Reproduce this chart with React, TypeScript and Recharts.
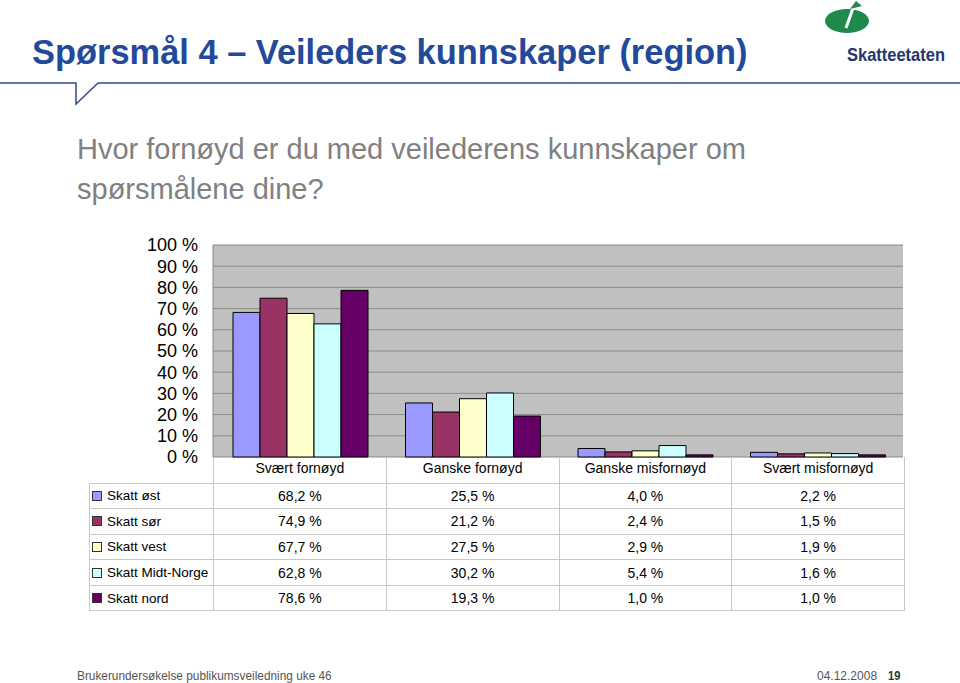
import React, { useLayoutEffect, useRef, useState } from 'react'
import { BarChart, Bar, XAxis, YAxis, CartesianGrid } from 'recharts'

const categories = ['Svært fornøyd', 'Ganske fornøyd', 'Ganske misfornøyd', 'Svært misfornøyd']
const skattOst = [68.2, 25.5, 4.0, 2.2]
const skattSor = [74.9, 21.2, 2.4, 1.5]
const skattVest = [67.7, 27.5, 2.9, 1.9]
const skattMidtNorge = [62.8, 30.2, 5.4, 1.6]
const skattNord = [78.6, 19.3, 1.0, 1.0]
const yTicks = [0, 10, 20, 30, 40, 50, 60, 70, 80, 90, 100]

const series = [
  { key: 'ost', name: 'Skatt øst', values: skattOst, color: '#9999FF' },
  { key: 'sor', name: 'Skatt sør', values: skattSor, color: '#993366' },
  { key: 'vest', name: 'Skatt vest', values: skattVest, color: '#FFFFCC' },
  { key: 'midt', name: 'Skatt Midt-Norge', values: skattMidtNorge, color: '#CCFFFF' },
  { key: 'nord', name: 'Skatt nord', values: skattNord, color: '#660066' }
]

const data = categories.map((name, i) => {
  const row: Record<string, string | number> = { name }
  series.forEach(s => { row[s.key] = s.values[i] })
  return row
})

const fmt = (v: number) => v.toFixed(1).replace('.', ',') + ' %'

const arial = '"Liberation Sans", Arial, sans-serif'
const gridColor = '#C8C8C8'

// squeezes a text horizontally to a given width (stands in for Arial Narrow)
const FitText = ({ width, style, children }: { width: number, style: React.CSSProperties, children: React.ReactNode }) => {
  const ref = useRef<HTMLSpanElement>(null)
  const [scale, setScale] = useState(1)
  useLayoutEffect(() => {
    if (ref.current) setScale(width / ref.current.offsetWidth)
  }, [width])
  return (
    <span ref={ref} style={{ position: 'absolute', display: 'inline-block', whiteSpace: 'nowrap', transformOrigin: 'left top', transform: `scaleX(${scale})`, ...style }}>
      {children}
    </span>
  )
}

const YTick = ({ x, y, payload }: any) => (
  <text x={x} y={y} textAnchor="end" dy="0.36em" fontSize={18} fontFamily={arial} fill="#000">
    {payload.value} %
  </text>
)

const cell: React.CSSProperties = {
  border: `1px solid ${gridColor}`,
  padding: 0,
  textAlign: 'center',
  fontSize: 14,
  fontFamily: arial,
  color: '#000',
  whiteSpace: 'nowrap'
}

const App = () => {
  return (
    <div style={{ position: 'absolute', left: 0, top: 0, width: 960, height: 683, background: '#fff', overflow: 'hidden' }}>
      <FitText width={716} style={{ left: 32, top: 34, fontFamily: arial, fontWeight: 'bold', fontSize: 35, lineHeight: '35px', color: '#234A9A' }}>
        Spørsmål 4 – Veileders kunnskaper (region)
      </FitText>

      {/* logo + rule under the title */}
      <svg width={960} height={110} style={{ position: 'absolute', left: 0, top: 0 }}>
        <ellipse cx={847} cy={21} rx={22} ry={12} fill="#1F8A4C" />
        <line x1={846} y1={28} x2={853} y2={8} stroke="#fff" strokeWidth={3} />
        <polygon points="850,9 856,1 862,6" fill="#1F8A4C" />
        <polyline points="0,83 76,83 76,104 98,83 960,83" fill="none" stroke="#2E4A8E" strokeWidth={1.5} />
      </svg>
      <FitText width={98} style={{ left: 847, top: 45, fontFamily: arial, fontWeight: 'bold', fontSize: 19, lineHeight: '19px', color: '#23366E' }}>
        Skatteetaten
      </FitText>

      <div style={{ position: 'absolute', left: 77, top: 129, fontFamily: arial, fontSize: 29, lineHeight: '40px', color: '#808080', whiteSpace: 'nowrap' }}>
        Hvor fornøyd er du med veilederens kunnskaper om<br />spørsmålene dine?
      </div>

      <div style={{ position: 'absolute', left: 0, top: 0 }}>
        <BarChart
          width={960}
          height={683}
          data={data}
          margin={{ top: 245, right: 57, bottom: 226, left: 93 }}
          barCategoryGap={20}
          barGap={0}
        >
          <CartesianGrid vertical={false} fill="#C0C0C0" stroke="#8A8A8A" />
          <XAxis dataKey="name" hide />
          <YAxis
            domain={[0, 100]}
            ticks={yTicks}
            interval={0}
            width={120}
            tick={<YTick />}
            tickLine={false}
            tickSize={0}
            tickMargin={15}
            axisLine={{ stroke: '#8A8A8A' }}
          />
          <YAxis yAxisId="r" orientation="right" domain={[0, 100]} width={0} tick={false} tickLine={false} axisLine={{ stroke: '#8A8A8A' }} />
          {series.map(s => (
            <Bar key={s.key} dataKey={s.key} name={s.name} fill={s.color} stroke="#000" strokeWidth={1} isAnimationActive={false} />
          ))}
        </BarChart>
      </div>

      <table style={{ position: 'absolute', left: 89, top: 457, borderCollapse: 'collapse', tableLayout: 'fixed', width: 815 }}>
        <colgroup>
          <col style={{ width: 124 }} />
          {categories.map(c => <col key={c} style={{ width: 172.75 }} />)}
        </colgroup>
        <tbody>
          <tr style={{ height: 26 }}>
            <td style={{ ...cell, border: 'none', borderBottom: `1px solid ${gridColor}`, borderRight: `1px solid ${gridColor}` }} />
            {categories.map(c => (
              <td key={c} style={{ ...cell, borderTop: 'none', paddingBottom: 3 }}>{c}</td>
            ))}
          </tr>
          {series.map(s => (
            <tr key={s.key} style={{ height: 25.6 }}>
              <td style={{ ...cell, textAlign: 'left', paddingLeft: 2, fontSize: 13.5 }}>
                <span style={{ display: 'inline-block', width: 8, height: 8, background: s.color, border: '1px solid #333', marginRight: 5, verticalAlign: 'middle', position: 'relative', top: -1 }} />
                {s.name}
              </td>
              {s.values.map((v, i) => (
                <td key={i} style={cell}>{fmt(v)}</td>
              ))}
            </tr>
          ))}
        </tbody>
      </table>

      <FitText width={255} style={{ left: 77, top: 669, fontFamily: arial, fontSize: 13, lineHeight: '13px', color: '#555' }}>
        Brukerundersøkelse publikumsveiledning uke 46
      </FitText>
      <FitText width={60} style={{ left: 817, top: 669, fontFamily: arial, fontSize: 13, lineHeight: '13px', color: '#555' }}>
        04.12.2008
      </FitText>
      <FitText width={12} style={{ left: 888, top: 669, fontFamily: arial, fontSize: 13, lineHeight: '13px', color: '#333', fontWeight: 'bold' }}>
        19
      </FitText>
    </div>
  )
}

export default App
